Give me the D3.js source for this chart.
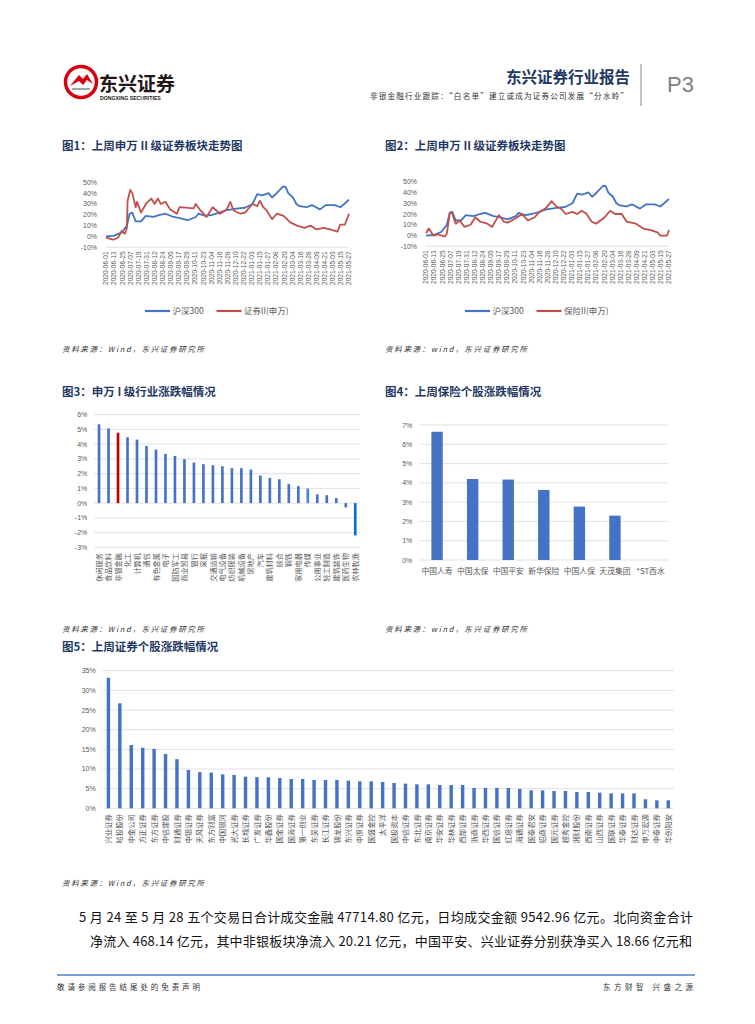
<!DOCTYPE html>
<html>
<head>
<meta charset="utf-8">
<script src="https://cdn.jsdelivr.net/npm/d3@7"></script>
<style>
body { margin: 0; background: #fff; }
svg { display: block; font-family: "Liberation Sans", "Noto Sans CJK SC", sans-serif; }
</style>
</head>
<body>
<div id="page"></div>
<script>
// ---- data ----
var tickDates = ["2020-06-01","2020-06-13","2020-06-25","2020-07-07","2020-07-19","2020-07-31",
  "2020-08-12","2020-08-24","2020-09-05","2020-09-17","2020-09-29","2020-10-11","2020-10-23",
  "2020-11-04","2020-11-16","2020-11-28","2020-12-10","2020-12-22","2021-01-03","2021-01-15",
  "2021-01-27","2021-02-08","2021-02-20","2021-03-04","2021-03-16","2021-03-28","2021-04-09",
  "2021-04-21","2021-05-03","2021-05-15","2021-05-27"];

var hs300Dates = ["2020-06-01","2020-06-12","2020-06-24","2020-07-02","2020-07-06","2020-07-10","2020-07-15",
  "2020-07-23","2020-07-30","2020-08-10","2020-08-20","2020-08-28","2020-09-09","2020-09-18","2020-09-30",
  "2020-10-12","2020-10-16","2020-10-26","2020-11-05","2020-11-16","2020-11-25","2020-12-04","2020-12-14",
  "2020-12-24","2021-01-04","2021-01-11","2021-01-18","2021-01-28","2021-02-02","2021-02-09","2021-02-18",
  "2021-02-22","2021-02-26","2021-03-05","2021-03-10","2021-03-15","2021-03-25","2021-04-02","2021-04-14",
  "2021-04-23","2021-05-06","2021-05-14","2021-05-20","2021-05-27"];
var hs300Vals = [0, 0.5, 3.5, 10, 21, 22, 14, 14, 19, 18, 20, 21, 18, 17, 15, 18, 21, 19, 20, 22, 24, 25, 26,
  26.5, 30, 39, 38, 40, 36, 40, 46, 46, 40, 36, 30, 28, 27, 29, 25, 29, 29, 27, 30, 34];

var secDates = ["2020-06-01","2020-06-12","2020-06-19","2020-06-24","2020-06-29","2020-07-02","2020-07-03",
  "2020-07-07","2020-07-10","2020-07-15","2020-07-17","2020-07-23","2020-07-30","2020-08-07","2020-08-12",
  "2020-08-17","2020-08-21","2020-08-28","2020-09-04","2020-09-14","2020-09-18","2020-10-09","2020-10-12",
  "2020-10-19","2020-10-28","2020-11-06","2020-11-17","2020-11-27","2020-12-02","2020-12-07","2020-12-17",
  "2020-12-24","2021-01-04","2021-01-11","2021-01-15","2021-01-20","2021-01-25","2021-02-02","2021-02-09",
  "2021-02-19","2021-03-01","2021-03-11","2021-03-22","2021-03-31","2021-04-09","2021-04-19","2021-04-29",
  "2021-05-10","2021-05-14","2021-05-21","2021-05-27"];
var secVals = [-1, -3, -1, 5, 2.5, 8, 33, 43, 40, 27, 32, 22, 30, 35, 30, 35, 30, 32, 25, 21, 27, 26, 30, 24,
  18, 27, 21, 25, 32, 24, 21, 22, 30, 28, 33, 27, 24, 16, 21, 19, 13, 10, 8, 10, 6.5, 8, 6.5, 4.5, 11, 11, 21];

var insDates = ["2020-06-01","2020-06-05","2020-06-12","2020-06-19","2020-06-29","2020-07-02","2020-07-06",
  "2020-07-09","2020-07-15","2020-07-21","2020-07-28","2020-08-06","2020-08-13","2020-08-20","2020-08-31",
  "2020-09-07","2020-09-17","2020-09-24","2020-09-30","2020-10-12","2020-10-21","2020-10-30","2020-11-09",
  "2020-11-16","2020-11-25","2020-12-04","2020-12-11","2020-12-18","2020-12-25","2021-01-04","2021-01-11",
  "2021-01-18","2021-01-25","2021-02-01","2021-02-08","2021-02-19","2021-03-01","2021-03-08","2021-03-18",
  "2021-03-25","2021-04-08","2021-04-19","2021-04-30","2021-05-10","2021-05-14","2021-05-24","2021-05-27"];
var insVals = [2, 6.5, 0, 1, -1, 2, 20, 22, 11, 14, 8, 10, 17, 13, 11, 8, 19, 13, 12, 16, 20, 14, 17, 22, 25,
  32, 27, 25, 20, 22, 20, 23, 20, 13, 11, 16, 23, 20, 20, 13, 11, 6.5, 5, 3, 0, 0, 5];

var industries = ["休闲服务","食品饮料","非银金融","化工","计算机","通信","有色金属","电子","国防军工","商业贸易",
  "银行","采掘","交通运输","电气设备","纺织服装","机械设备","房地产","汽车","建筑材料","综合","钢铁",
  "家用电器","传媒","公用事业","轻工制造","建筑装饰","医药生物","农林牧渔"];
var industryChg = [5.35, 5.07, 4.78, 4.47, 4.31, 3.88, 3.63, 3.34, 3.2, 2.98, 2.75, 2.64, 2.57, 2.5, 2.37, 2.37,
  2.28, 1.87, 1.71, 1.62, 1.29, 1.15, 0.99, 0.59, 0.54, 0.34, -0.29, -2.19];

var insurers = ["中国人寿","中国太保","中国平安","新华保险","中国人保","天茂集团","*ST西水"];
var insurerChg = [6.65, 4.2, 4.17, 3.63, 2.77, 2.3, 0];

var brokers = ["兴业证券","哈投股份","中金公司","方正证券","东方证券","中信建投","财通证券","中银证券","天风证券",
  "东方财富","中国银河","光大证券","长城证券","广发证券","华鑫股份","国金证券","国海证券","第一创业","东吴证券",
  "长江证券","锦龙股份","东兴证券","中原证券","国盛金控","太平洋","国投资本","中信证券","东北证券","南京证券",
  "华安证券","华林证券","西部证券","浙商证券","华西证券","国信证券","红塔证券","海通证券","国泰君安","招商证券",
  "国元证券","越秀金控","湘财股份","西南证券","山西证券","国联证券","华泰证券","财达证券","申万宏源","中泰证券",
  "华创阳安"];
var brokerChg = [33.2, 26.7, 16.1, 15.4, 15.1, 13.8, 12.5, 9.75, 9.2, 9.07, 8.64, 8.47, 8.05, 7.9, 7.9, 7.7,
  7.45, 7.45, 7.2, 7.2, 7.2, 7.03, 6.86, 6.86, 6.7, 6.44, 6.27, 6.1, 6.1, 5.93, 5.93, 5.93, 5.17, 5.17, 5.17,
  5.17, 4.92, 4.58, 4.58, 4.4, 4.4, 4.15, 4.15, 3.98, 3.8, 3.8, 3.8, 2.29, 2.03, 2.03];

// ---- drawing ----
var BLUE = "#4472c4", RED = "#c0504d", NAVY = "#1f3864", GRID = "#d9d9d9", TXT = "#595959";
var parse = d3.timeParse("%Y-%m-%d");

var svg = d3.select("#page").append("svg")
  .attr("width", 755)
  .attr("height", 1024);

// header
var logo = svg.append("g").attr("transform", "translate(81,82)");
logo.append("circle").attr("r", 15.5).attr("fill", "none").attr("stroke", "#d7000f").attr("stroke-width", 3.5);
logo.append("path").attr("d", "M-11,4 L-2,-7 L2,-3 L6,-8 L12,2 L6,-2 L2,3 L-2,-1 Z").attr("fill", "#d7000f");
logo.append("path").attr("d", "M-9,7 L9,7").attr("stroke", "#888").attr("stroke-width", 1.5);
svg.append("text").attr("x", 99).attr("y", 91).attr("font-size", 19).attr("font-weight", "bold")
  .attr("fill", "#231815").attr("font-family", "Noto Sans CJK SC").text("东兴证券");
svg.append("text").attr("x", 100).attr("y", 100).attr("font-size", 5.2).attr("font-weight", "bold")
  .attr("fill", "#231815").text("DONGXING SECURITIES");

svg.append("text").attr("x", 630).attr("y", 83).attr("text-anchor", "end").attr("font-size", 15.5)
  .attr("font-weight", "bold").attr("fill", NAVY).attr("font-family", "Noto Sans CJK SC").text("东兴证券行业报告");
svg.append("text").attr("x", 370).attr("y", 99).attr("font-size", 7.6)
  .attr("fill", "#333").attr("font-family", "Noto Sans CJK SC")
  .attr("textLength", 258).attr("lengthAdjust", "spacing")
  .text("非银金融行业跟踪：“白名单”建立或成为证券公司发展“分水岭”");
svg.append("line").attr("x1", 641).attr("x2", 641).attr("y1", 64).attr("y2", 106)
  .attr("stroke", "#9a9a9a").attr("stroke-width", 1.2);
svg.append("text").attr("x", 667).attr("y", 92).attr("font-size", 22).attr("fill", "#7f7f7f").text("P3");

function title(x, y, s) {
  svg.append("text").attr("x", x).attr("y", y).attr("font-size", 11.5).attr("font-weight", "bold")
    .attr("fill", NAVY).attr("font-family", "Noto Sans CJK SC").text(s);
}
function source(x, y, s) {
  svg.append("text").attr("x", x).attr("y", y).attr("font-size", 7.5).attr("font-style", "italic")
    .attr("fill", "#333").attr("font-family", "Noto Sans CJK SC")
    .attr("textLength", 142).attr("lengthAdjust", "spacing").text(s);
}
function pct(d) { return Math.round(d) + "%"; }

function lineChart(o) {
  var g = svg.append("g");
  var x = d3.scaleTime().domain([parse("2020-06-01"), parse("2021-05-27")]).range([o.x0, o.x1]);
  var y = d3.scaleLinear().domain([-10, 50]).range([o.yb, o.yt]);

  g.append("line").attr("x1", o.x0).attr("x2", o.x1).attr("y1", y(-10)).attr("y2", y(-10))
    .attr("stroke", GRID).attr("stroke-width", 0.8);

  g.selectAll(".yl").data(d3.range(-10, 51, 10)).enter().append("text")
    .attr("x", o.x0 - 9).attr("y", d => y(d) + 2.5).attr("text-anchor", "end")
    .attr("font-size", 7).attr("fill", TXT).text(pct);

  g.selectAll(".xl").data(tickDates).enter().append("text")
    .attr("transform", d => "translate(" + (x(parse(d)) + 2.3) + "," + (y(-10) + 4) + ") rotate(-90)")
    .attr("text-anchor", "end").attr("font-size", 6.6).attr("fill", TXT).text(d => d);

  var line = d3.line().x(d => x(d[0])).y(d => y(d[1]));
  o.series.forEach(function (s) {
    var pts = s.dates.map((d, i) => [parse(d), s.vals[i]]);
    g.append("path").datum(pts).attr("d", line).attr("fill", "none")
      .attr("stroke", s.color).attr("stroke-width", 1.8).attr("stroke-linejoin", "round");
  });

  // legend
  o.series.forEach(function (s, i) {
    var lx = o.legendX + i * 71.5;
    g.append("line").attr("x1", lx).attr("x2", lx + 25).attr("y1", o.legendY).attr("y2", o.legendY)
      .attr("stroke", s.color).attr("stroke-width", 2.2);
    g.append("text").attr("x", lx + 27.5).attr("y", o.legendY + 3).attr("font-size", 8.5)
      .attr("fill", TXT).attr("font-family", "Noto Sans CJK SC").text(s.name);
  });
}

function barChart(o) {
  var g = svg.append("g");
  var x = d3.scaleBand().domain(o.labels).range([o.x0, o.x1]).paddingInner(o.pad).paddingOuter(o.pad / 2);
  var y = d3.scaleLinear().domain(o.domain).range([o.yb, o.yt]);
  var ticks = d3.range(o.domain[0], o.domain[1] + 0.001, o.step);

  g.selectAll(".gl").data(ticks).enter().append("line")
    .attr("x1", o.x0).attr("x2", o.x1).attr("y1", d => y(d)).attr("y2", d => y(d))
    .attr("stroke", GRID).attr("stroke-width", 0.8);
  g.selectAll(".yl").data(ticks).enter().append("text")
    .attr("x", o.x0 - 7).attr("y", d => y(d) + 2.5).attr("text-anchor", "end")
    .attr("font-size", 7).attr("fill", TXT).text(pct);

  g.selectAll(".bar").data(o.values).enter().append("rect")
    .attr("x", (d, i) => x(o.labels[i]))
    .attr("width", x.bandwidth())
    .attr("y", d => y(Math.max(0, d)))
    .attr("height", d => Math.abs(y(d) - y(0)))
    .attr("fill", (d, i) => o.color(i));

  if (o.rotate) {
    g.selectAll(".xl").data(o.labels).enter().append("text")
      .attr("transform", d => "translate(" + (x(d) + x.bandwidth() / 2 + 2.6) + "," + o.labelY + ") rotate(-90)")
      .attr("text-anchor", "end").attr("font-size", o.labelSize).attr("fill", TXT)
      .attr("font-family", "Noto Sans CJK SC").text(d => d);
  } else {
    g.selectAll(".xl").data(o.labels).enter().append("text")
      .attr("x", d => x(d) + x.bandwidth() / 2).attr("y", o.labelY).attr("text-anchor", "middle")
      .attr("font-size", o.labelSize).attr("fill", TXT).attr("font-family", "Noto Sans CJK SC").text(d => d);
  }
}

// figure 1 & 2
title(62, 150, "图1：上周申万 II 级证券板块走势图");
title(385, 150, "图2：上周申万 II 级证券板块走势图");
lineChart({
  x0: 106, x1: 349, yt: 182.3, yb: 247.3, legendX: 145, legendY: 311,
  series: [
    { name: "沪深300", dates: hs300Dates, vals: hs300Vals, color: BLUE },
    { name: "证券II(申万)", dates: secDates, vals: secVals, color: RED }
  ]
});
lineChart({
  x0: 426, x1: 669, yt: 181.7, yb: 246.3, legendX: 465, legendY: 311,
  series: [
    { name: "沪深300", dates: hs300Dates, vals: hs300Vals, color: BLUE },
    { name: "保险II(申万)", dates: insDates, vals: insVals, color: RED }
  ]
});
source(62, 352, "资料来源：Wind，东兴证券研究所");
source(385, 352, "资料来源：wind，东兴证券研究所");

// figure 3
title(62, 396, "图3：申万 I 级行业涨跌幅情况");
barChart({
  labels: industries, values: industryChg, x0: 94.3, x1: 360, yt: 414.7, yb: 547.3,
  domain: [-3, 6], step: 1, pad: 0.72, rotate: true, labelY: 553, labelSize: 7.2,
  color: function (i) {
    if (industries[i] === "非银金融") return "#c00000";
    if (i === industries.length - 1) return "#0a6fc2";
    if (i === 22) return "#4a86d0";
    return BLUE;
  }
});
source(62, 632, "资料来源：Wind，东兴证券研究所");

// figure 4
title(385, 396, "图4：上周保险个股涨跌幅情况");
barChart({
  labels: insurers, values: insurerChg, x0: 419.3, x1: 668.3, yt: 425, yb: 560,
  domain: [0, 7], step: 1, pad: 0.68, rotate: false, labelY: 574, labelSize: 7.8,
  color: function () { return BLUE; }
});
source(385, 632, "资料来源：wind，东兴证券研究所");

// figure 5
title(62, 651, "图5：上周证券个股涨跌幅情况");
barChart({
  labels: brokers, values: brokerChg, x0: 102.7, x1: 674, yt: 670.7, yb: 808.3,
  domain: [0, 35], step: 5, pad: 0.7, rotate: true, labelY: 814, labelSize: 7.4,
  color: function () { return BLUE; }
});
source(62, 886, "资料来源：Wind，东兴证券研究所");

// body text
var body = [
  { x: 79, y: 922, w: 614, s: "5 月 24 至 5 月 28 五个交易日合计成交金融 47714.80 亿元，日均成交金额 9542.96 亿元。北向资金合计" },
  { x: 90, y: 946, w: 602, s: "净流入 468.14 亿元，其中非银板块净流入 20.21 亿元，中国平安、兴业证券分别获净买入 18.66 亿元和" }
];
body.forEach(function (b) {
  svg.append("text").attr("x", b.x).attr("y", b.y).attr("font-size", 13).attr("fill", "#111")
    .attr("font-family", "Noto Sans CJK SC").attr("textLength", b.w).attr("lengthAdjust", "spacing").text(b.s);
});

// footer
svg.append("line").attr("x1", 57).attr("x2", 695).attr("y1", 975).attr("y2", 975)
  .attr("stroke", "#4f81bd").attr("stroke-width", 1.5);
svg.append("text").attr("x", 57).attr("y", 990).attr("font-size", 7.5).attr("fill", "#333")
  .attr("font-family", "Noto Sans CJK SC").attr("textLength", 143).attr("lengthAdjust", "spacing")
  .text("敬请参阅报告结尾处的免责声明");
svg.append("text").attr("x", 603).attr("y", 990).attr("font-size", 7.5)
  .attr("fill", "#333").attr("font-family", "Noto Sans CJK SC").attr("textLength", 90).attr("lengthAdjust", "spacing")
  .text("东方财智 兴盛之源");
</script>
</body>
</html>
